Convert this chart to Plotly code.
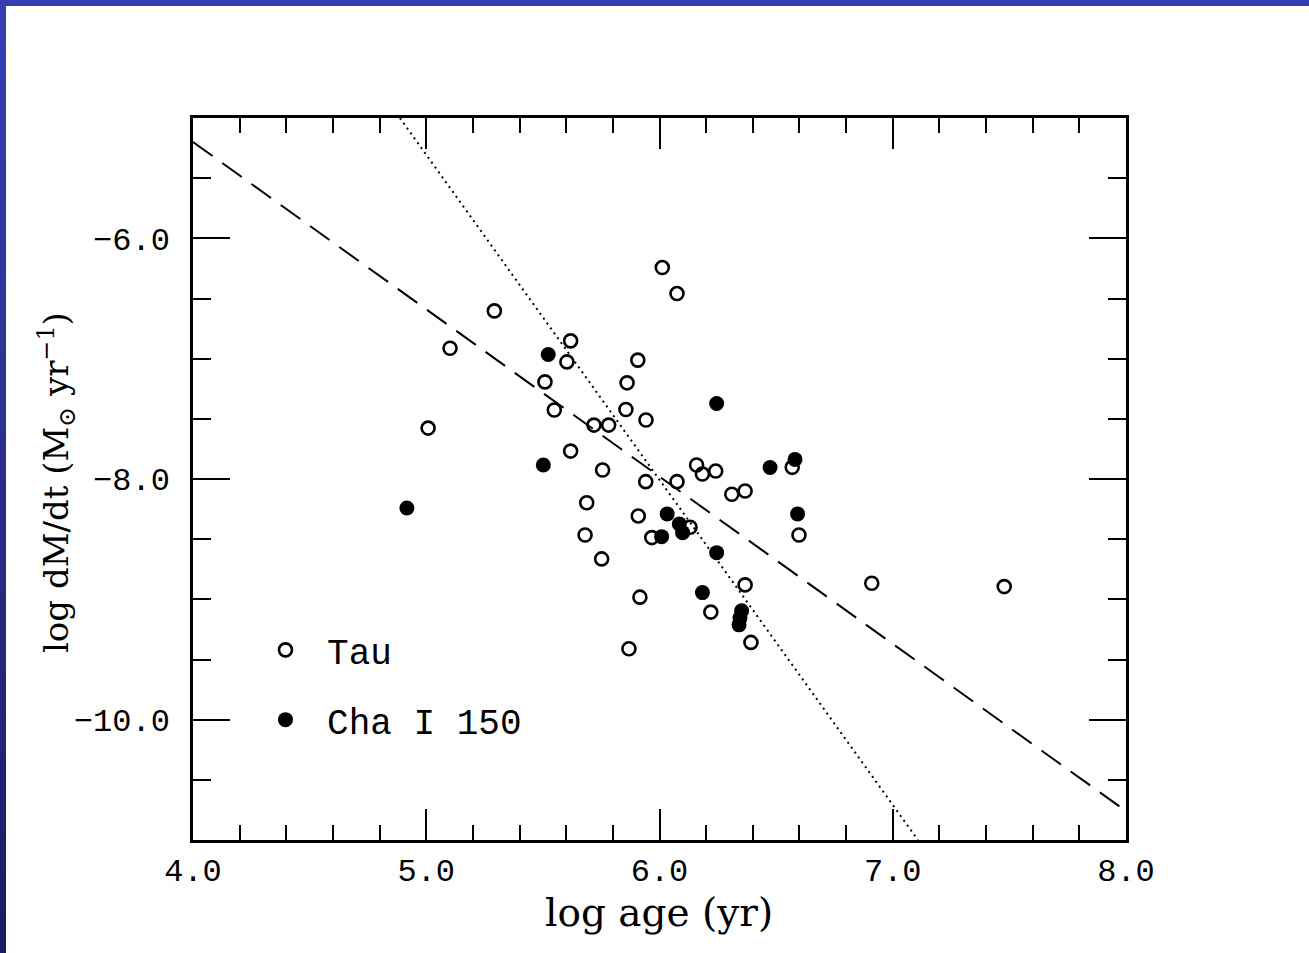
import plotly.graph_objects as go

# ---- data ----
tau_x = [5.008, 5.102, 5.292, 5.509, 5.549, 5.603, 5.619, 5.619, 5.719, 5.782,
         5.756, 5.688, 5.681, 5.752, 5.861, 5.907, 5.856, 5.942, 5.941, 5.909,
         5.967, 5.916, 5.869, 6.012, 6.075, 6.075, 6.131, 6.159, 6.184, 6.241,
         6.310, 6.367, 6.367, 6.220, 6.392, 6.569, 6.598, 6.910, 7.478]
tau_y = [-7.577, -6.913, -6.603, -7.193, -7.427, -7.027, -6.852, -7.768, -7.552, -7.552,
         -7.925, -8.197, -8.465, -8.664, -7.201, -7.012, -7.422, -7.510, -8.022, -8.307,
         -8.487, -8.982, -9.411, -6.243, -6.459, -8.022, -8.401, -7.884, -7.959, -7.934,
         -8.127, -8.100, -8.880, -9.106, -9.358, -7.903, -8.465, -8.866, -8.894]

cha_x = [4.917, 5.523, 5.502, 6.245, 6.033, 6.085, 6.099, 6.009, 6.245, 6.184,
         6.352, 6.345, 6.341, 6.474, 6.581, 6.592]
cha_y = [-8.241, -6.965, -7.884, -7.372, -8.290, -8.373, -8.446, -8.479, -8.612, -8.944,
         -9.095, -9.154, -9.212, -7.905, -7.837, -8.290]

dash_x = [4.0, 8.0]
dash_y = [-5.20, -10.76]
dot_x = [4.887, 7.108]
dot_y = [-5.0, -11.0]

x_range = [4.0, 8.0]
y_range = [-11.0, -5.0]
x_ticks = [4.0, 5.0, 6.0, 7.0, 8.0]
x_ticktext = ["4.0", "5.0", "6.0", "7.0", "8.0"]
y_ticks = [-10.0, -8.0, -6.0]
y_ticktext = ["\u221210.0", "\u22128.0", "\u22126.0"]
x_title = "log age (yr)"
y_title = "log dM/dt (M<sub>\u2299</sub> yr<sup>\u22121</sup>)"

W, H = 1309, 953
L, R, T, B = 193, 1126, 118, 840

fig = go.Figure()

fig.add_trace(go.Scatter(x=dash_x, y=dash_y, mode="lines", showlegend=False,
                         line=dict(color="black", width=2, dash="24px,12px"),
                         hoverinfo="skip"))
fig.add_trace(go.Scatter(x=dot_x, y=dot_y, mode="lines", showlegend=False,
                         line=dict(color="black", width=2, dash="2px,4px"),
                         hoverinfo="skip"))
fig.add_trace(go.Scatter(x=tau_x, y=tau_y, mode="markers", name=" Tau",
                         legendgroup="a",
                         marker=dict(symbol="circle-open", size=13, color="black",
                                     line=dict(width=2.6, color="black"))))
fig.add_trace(go.Scatter(x=cha_x, y=cha_y, mode="markers", name=" Cha I 150",
                         legendgroup="b",
                         marker=dict(symbol="circle", size=15, color="black",
                                     line=dict(width=0))))

axis_common = dict(
    showline=True, linecolor="black", linewidth=2.5, mirror="allticks",
    ticks="inside", tickcolor="black", tickwidth=2, showgrid=False, zeroline=False,
)

fig.update_xaxes(range=x_range, tickvals=x_ticks, ticktext=x_ticktext, ticklen=31,
                 minor=dict(dtick=0.2, tick0=4.0, ticks="inside", ticklen=15,
                            tickwidth=2, tickcolor="black", showgrid=False),
                 tickfont=dict(family="Liberation Mono", size=32, color="black"),
                 ticklabelstandoff=0,
                 **axis_common)
fig.update_yaxes(range=y_range, tickvals=y_ticks, ticktext=y_ticktext, ticklen=37,
                 minor=dict(dtick=0.5, tick0=-11.0, ticks="inside", ticklen=18,
                            tickwidth=2, tickcolor="black", showgrid=False),
                 tickfont=dict(family="Liberation Mono", size=32, color="black"),
                 ticklabelstandoff=14,
                 **axis_common)

pw, ph = R - L, B - T
def px2x(p):
    return (p - L) / pw
def py2y(p):
    return 1 - (p - T) / ph

annotations = [
    dict(text=x_title, xref="paper", yref="paper", x=px2x(659), y=py2y(912),
         xanchor="center", yanchor="middle", showarrow=False,
         font=dict(family="DejaVu Serif", size=39, color="black")),
    dict(text=y_title, xref="paper", yref="paper", x=px2x(57), y=py2y(483),
         xanchor="center", yanchor="middle", showarrow=False, textangle=-90,
         font=dict(family="DejaVu Serif", size=34, color="black")),
]

# slide frame bands (blue)
shapes = []
shapes.append(dict(type="rect", xref="paper", yref="paper", layer="above",
                   x0=px2x(0), x1=px2x(W), y0=py2y(6), y1=py2y(0),
                   fillcolor="#3a3db0", line=dict(width=0)))
nseg = 24
top_c = (58, 61, 178)
bot_c = (26, 30, 100)
for i in range(nseg):
    f = i / (nseg - 1)
    c = tuple(int(round(top_c[k] + (bot_c[k] - top_c[k]) * f)) for k in range(3))
    y0p = i * H / nseg
    y1p = (i + 1) * H / nseg + 1
    shapes.append(dict(type="rect", xref="paper", yref="paper", layer="above",
                       x0=px2x(0), x1=px2x(6), y0=py2y(y1p), y1=py2y(y0p),
                       fillcolor="rgb(%d,%d,%d)" % c, line=dict(width=0)))

fig.update_layout(
    width=W, height=H,
    margin=dict(l=L, r=W - R, t=T, b=H - B),
    paper_bgcolor="white", plot_bgcolor="white",
    shapes=shapes,
    annotations=annotations,
    showlegend=True,
    legend=dict(x=0.06 + 16.5 / 933, y=0.32 - 11 / 722, xanchor="left", yanchor="top",
                bgcolor="rgba(0,0,0,0)", traceorder="grouped", tracegroupgap=20,
                font=dict(family="Liberation Mono", size=36, color="black"),
                itemsizing="trace"),
)

fig.write_html("out.html")
